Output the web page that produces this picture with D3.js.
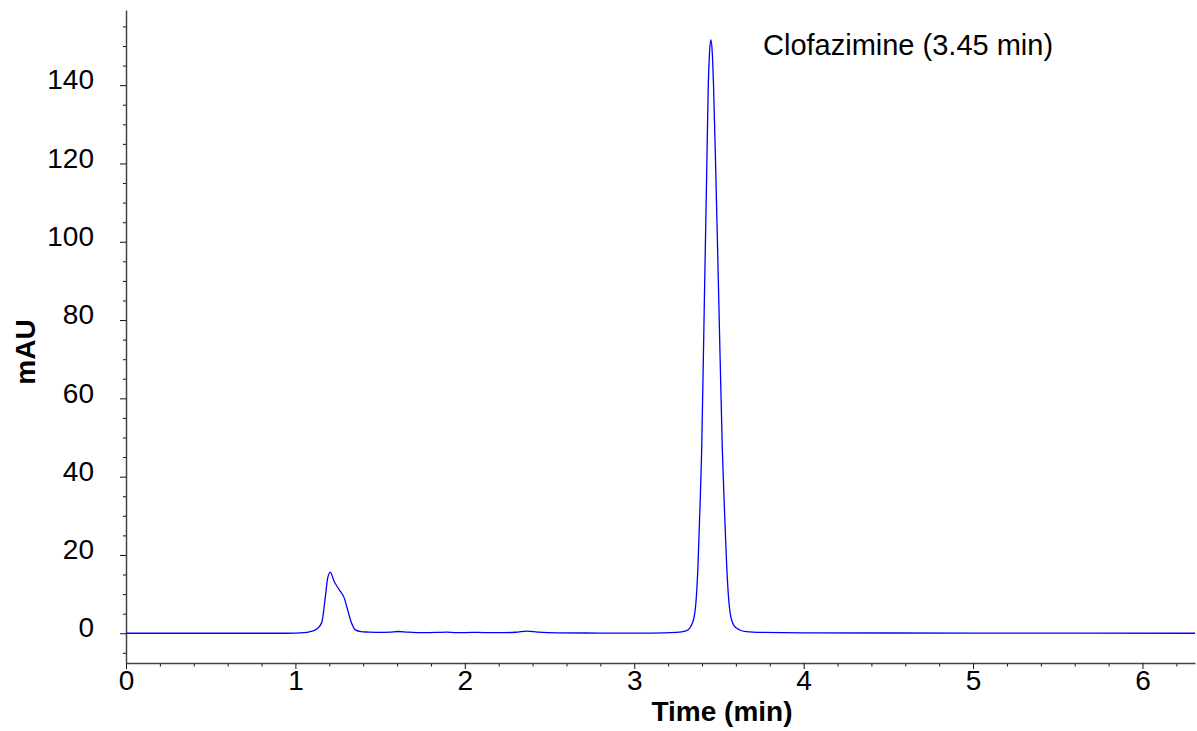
<!DOCTYPE html>
<html>
<head>
<meta charset="utf-8">
<script src="https://cdn.jsdelivr.net/npm/d3@7"></script>
<style>
  body { margin: 0; background: #fff; }
  svg { display: block; font-family: "Liberation Sans", Arial, sans-serif; }
</style>
</head>
<body>
<svg width="1197" height="731"></svg>
<script>
// chromatogram (time in min, absorbance in mAU)
const times = [0, 0.5, 0.9, 1.0, 1.05, 1.082, 1.11, 1.141, 1.157, 1.177, 1.19, 1.206, 1.229, 1.259,
  1.289, 1.308, 1.328, 1.354, 1.387, 1.43, 1.5, 1.56, 1.607, 1.66, 1.75, 1.83, 1.893, 1.95, 2.05,
  2.2, 2.3, 2.365, 2.43, 2.55, 2.8, 3.1, 3.25, 3.306, 3.335, 3.355, 3.367, 3.376, 3.384, 3.398, 3.414, 3.428,
  3.437, 3.444, 3.452, 3.461, 3.468, 3.481, 3.499, 3.52, 3.534, 3.545, 3.556, 3.57, 3.59, 3.62, 3.66,
  3.754, 4.0, 5.0, 6.31];
const mau = [0, 0, 0, 0.05, 0.15, 0.35, 0.7, 1.7, 3.0, 9.4, 14.0, 15.6, 13.2, 11.1,
  8.9, 6.0, 3.0, 0.85, 0.4, 0.3, 0.2, 0.3, 0.45, 0.3, 0.15, 0.2, 0.3, 0.15, 0.2,
  0.15, 0.25, 0.55, 0.3, 0.1, 0.05, 0.05, 0.2, 0.6, 1.8, 4.5, 9.5, 17, 27, 46.8, 85.2, 118.4,
  140, 148, 151.6, 148, 140, 118.4, 85.2, 46.8, 30, 18, 9.5, 4.2, 1.9, 0.9, 0.4,
  0.2, 0.1, 0.05, 0];

const xTicks = [0, 1, 2, 3, 4, 5, 6];
const yTicks = [0, 20, 40, 60, 80, 100, 120, 140];
const peakLabel = "Clofazimine (3.45 min)";

let svg = d3.select("svg");

// scales
const x = d3.scaleLinear().domain([0, 6.31]).range([126, 1195]);
const y = d3.scaleLinear().domain([-7.6, 159.2]).range([663, 10]);

// minor ticks
const xMinor = d3.range(0, 6.3, 0.2).filter((v) => Math.abs(v - Math.round(v)) > 1e-6);
const yMinor = d3.range(-5, 160, 5).filter((v) => v % 20 !== 0);

svg.append("g")
  .attr("transform", "translate(0,663)")
  .call(d3.axisBottom(x).tickValues(xMinor).tickSize(3.5).tickFormat("").tickSizeOuter(0))
  .call((g) => g.select(".domain").remove());

svg.append("g")
  .attr("transform", "translate(126,0)")
  .call(d3.axisLeft(y).tickValues(yMinor).tickSize(3).tickFormat("").tickSizeOuter(0))
  .call((g) => g.select(".domain").remove());

// major axes
let xAxis = svg.append("g")
  .attr("transform", "translate(0,663)")
  .call(d3.axisBottom(x).tickValues(xTicks).tickFormat(d3.format("d"))
    .tickSize(6).tickPadding(1.5).tickSizeOuter(0));

let yAxis = svg.append("g")
  .attr("transform", "translate(126,0)")
  .call(d3.axisLeft(y).tickValues(yTicks).tickFormat(d3.format("d"))
    .tickSize(6).tickPadding(26).tickSizeOuter(0));

yAxis.selectAll("text").attr("dy", "3.7px");

svg.selectAll(".tick line").attr("stroke", "#111");
[xAxis, yAxis].forEach((g) => {
  g.select(".domain").attr("stroke", "#444").attr("stroke-width", 1.5);
  g.selectAll("text")
    .style("font-family", "'Liberation Sans', Arial, sans-serif")
    .style("font-size", "28px")
    .attr("fill", "#000");
});

// trace
const line = d3.line()
  .x((d, i) => x(times[i]))
  .y((d) => y(d))
  .curve(d3.curveMonotoneX);

svg.append("path")
  .datum(mau)
  .attr("d", line)
  .attr("fill", "none")
  .attr("stroke", "#0000ff")
  .attr("stroke-width", 1.3);

// titles
svg.append("text")
  .attr("x", 722)
  .attr("y", 721)
  .attr("text-anchor", "middle")
  .style("font-size", "28px")
  .style("font-weight", "bold")
  .text("Time (min)");

svg.append("text")
  .attr("transform", "translate(35,352) rotate(-90)")
  .attr("text-anchor", "middle")
  .style("font-size", "28px")
  .style("font-weight", "bold")
  .text("mAU");

svg.append("text")
  .attr("x", 763)
  .attr("y", 55)
  .style("font-size", "29px")
  .text(peakLabel);
</script>
</body>
</html>
